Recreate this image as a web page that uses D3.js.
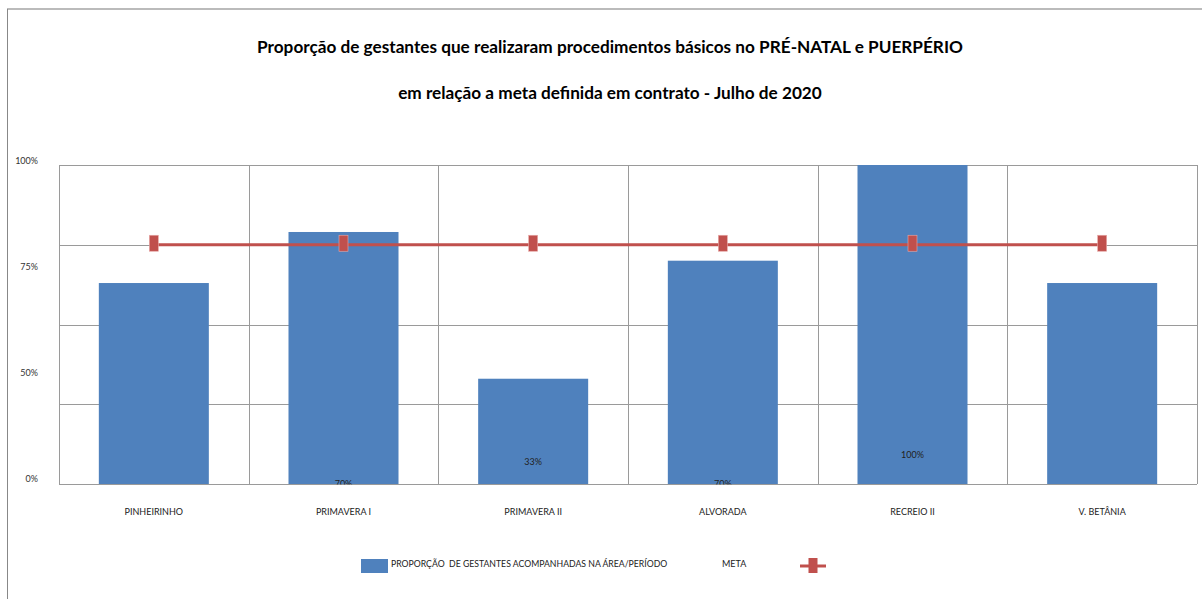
<!DOCTYPE html>
<html><head><meta charset="utf-8">
<script src="https://cdn.jsdelivr.net/npm/d3@7"></script>
<style>body{margin:0;background:#fff}svg{display:block}text{white-space:pre}</style>
</head><body>
<svg id="c" width="1202" height="599"></svg>
<script>
const categories = ["PINHEIRINHO","PRIMAVERA I","PRIMAVERA II","ALVORADA","RECREIO II","V. BETÂNIA"];
const proportion = [63, 79, 33, 70, 100, 63];
const meta = [75, 75, 75, 75, 75, 75];
const dataLabels = ["", "70%", "33%", "70%", "100%", ""];
const dataLabelAt = [0, 0, 7, 0, 9, 0];
const yTickLabels = ["100%","75%","50%","0%"];
const gridValues = [0, 25, 50, 75, 100];
const titleLines = ["Proporção de gestantes que realizaram procedimentos básicos no PRÉ-NATAL e PUERPÉRIO",
                    "em relação a meta definida em contrato - Julho de 2020"];
const legendBar = "PROPORÇÃO  DE GESTANTES ACOMPANHADAS NA ÁREA/PERÍODO";
const legendLine = "META";

const svg = d3.select("#c");
const font = "Lato, 'Open Sans', sans-serif";
const L = 59, R = 1197, T = 165, B = 484;

// outer frame
svg.append("line").attr("x1",7).attr("x2",1202).attr("y1",9).attr("y2",9).attr("stroke","#bbb").attr("stroke-width",2);
svg.append("line").attr("x1",7.5).attr("x2",7.5).attr("y1",9).attr("y2",599).attr("stroke","#888").attr("stroke-width",1);

// titles
svg.selectAll("text.title").data(titleLines).join("text")
  .attr("x",610).attr("y",(d,i)=>53+i*46).attr("text-anchor","middle")
  .attr("font-family",font).attr("font-weight","bold").attr("font-size",17.2).attr("fill","#000")
  .text(d=>d);

const x = d3.scaleBand().domain(categories).range([L,R]).paddingInner(0).paddingOuter(0);
const y = d3.scaleLinear().domain([0,100]).range([B,T]);
const barW = x.bandwidth()*0.58;

// gridlines
svg.append("g").selectAll("line").data(gridValues).join("line")
  .attr("x1",L).attr("x2",R).attr("y1",d=>Math.round(y(d))+0.5).attr("y2",d=>Math.round(y(d))+0.5)
  .attr("stroke","#9a9a9a");
const vx = categories.map(c=>x(c)).concat([R]);
svg.append("g").selectAll("line").data(vx).join("line")
  .attr("x1",d=>Math.round(d)+0.5).attr("x2",d=>Math.round(d)+0.5).attr("y1",T).attr("y2",B)
  .attr("stroke","#9a9a9a");

// y tick labels (positions as rendered in the original)
const yl = d3.scalePoint().domain(yTickLabels).range([161,479]);
svg.append("g").selectAll("text").data(yTickLabels).join("text")
  .attr("x",38).attr("y",d=>yl(d)+3).attr("text-anchor","end")
  .attr("font-family",font).attr("font-size",9).attr("fill","#333").text(d=>d);

// bars
svg.append("g").selectAll("rect").data(proportion).join("rect")
  .attr("x",(d,i)=>x(categories[i])+x.bandwidth()/2-barW/2).attr("width",barW)
  .attr("y",d=>y(d)).attr("height",d=>B-y(d)).attr("fill","#4f81bd");

// data labels (clipped to plot)
svg.append("clipPath").attr("id","pc").append("rect").attr("x",L).attr("y",T).attr("width",R-L).attr("height",B-T+0.5);
svg.append("g").attr("clip-path","url(#pc)").selectAll("text").data(dataLabels).join("text")
  .attr("x",(d,i)=>x(categories[i])+x.bandwidth()/2).attr("y",(d,i)=>y(dataLabelAt[i])+3)
  .attr("text-anchor","middle").attr("font-family",font).attr("font-size",9).attr("fill","#222").text(d=>d);

// meta line
const cx = (i)=>x(categories[i])+x.bandwidth()/2;
svg.append("path").datum(meta)
  .attr("d",d3.line().x((d,i)=>cx(i)).y(d=>y(d)))
  .attr("fill","none").attr("stroke","#c0504d").attr("stroke-width",3);
svg.append("g").selectAll("rect").data(meta).join("rect")
  .attr("x",(d,i)=>cx(i)-4.5).attr("y",d=>y(d)-9.5).attr("width",9).attr("height",16)
  .attr("fill","#c0504d").attr("stroke","#e8a9a8").attr("stroke-width",0.6);

// category labels
svg.append("g").selectAll("text").data(categories).join("text")
  .attr("x",d=>x(d)+x.bandwidth()/2).attr("y",515).attr("text-anchor","middle")
  .attr("font-family",font).attr("font-size",9).attr("fill","#222").text(d=>d);

// legend
svg.append("rect").attr("x",361).attr("y",559).attr("width",27).attr("height",14).attr("fill","#4f81bd");
svg.append("text").attr("x",391).attr("y",567).attr("font-family",font).attr("font-size",8.7).attr("fill","#222").text(legendBar);
svg.append("text").attr("x",722).attr("y",567).attr("font-family",font).attr("font-size",9).attr("fill","#222").text(legendLine);
svg.append("line").attr("x1",800).attr("x2",826).attr("y1",566).attr("y2",566).attr("stroke","#c0504d").attr("stroke-width",3);
svg.append("rect").attr("x",808.5).attr("y",558).attr("width",9).attr("height",15).attr("fill","#c0504d");
</script>
</body></html>
